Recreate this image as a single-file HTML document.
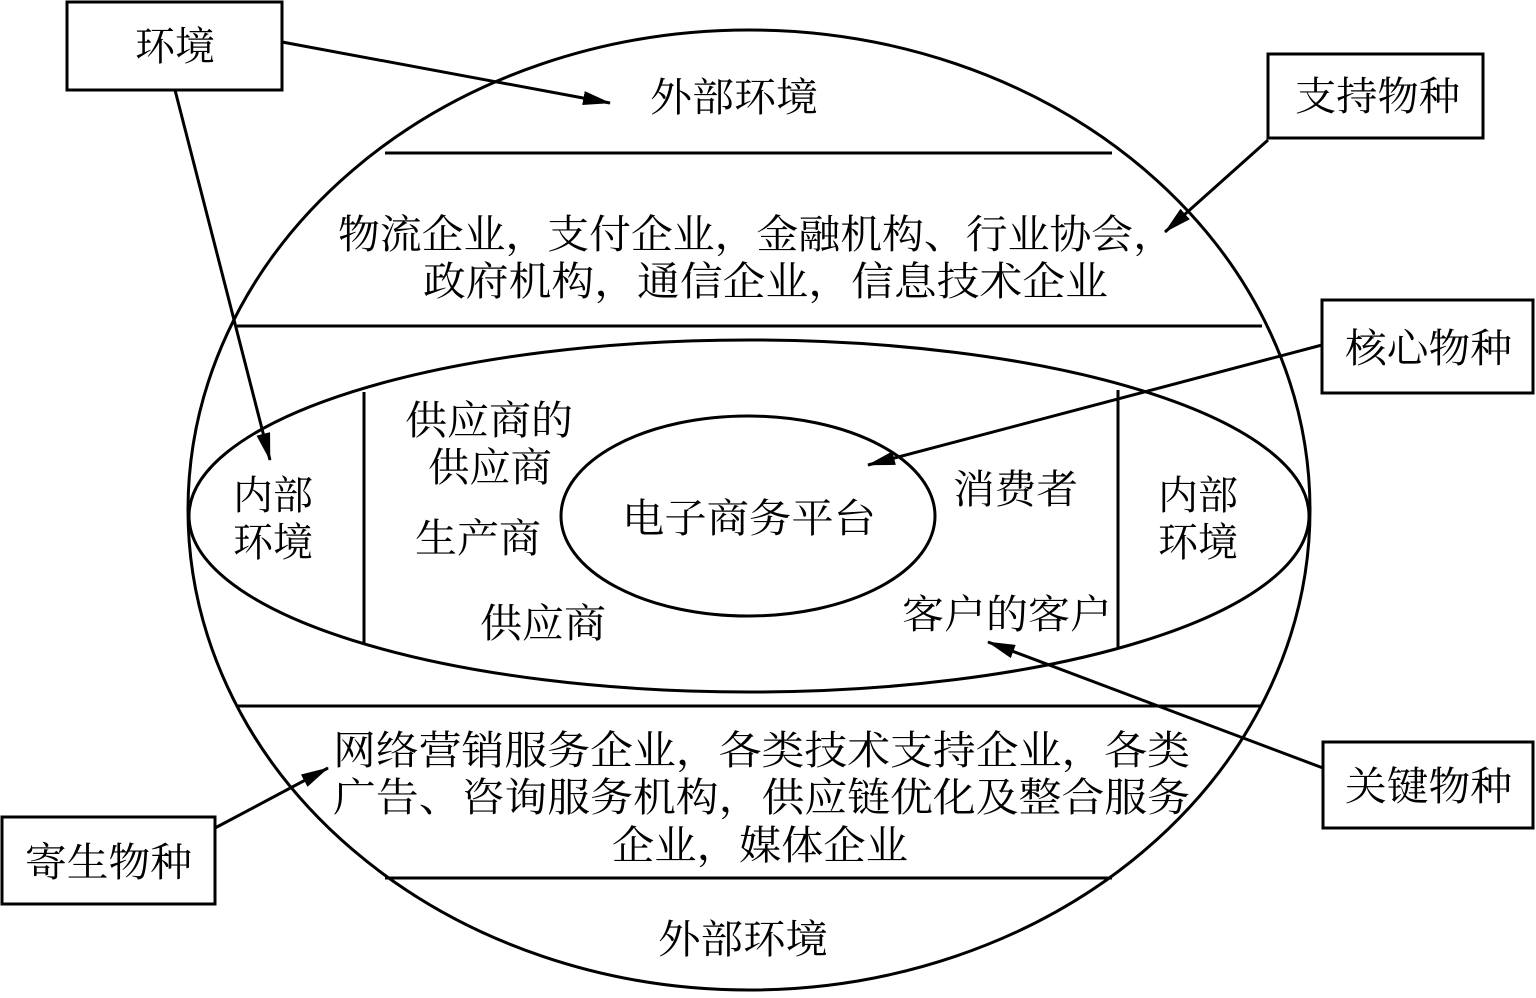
<!DOCTYPE html>
<html><head><meta charset="utf-8"><style>
html,body{margin:0;padding:0;background:#fff;}
svg text{font-family:"Liberation Serif","Noto Serif CJK SC",serif;font-size:40px;fill:#000;}
</style></head><body>
<svg width="1536" height="993" viewBox="0 0 1536 993" xmlns="http://www.w3.org/2000/svg">
<defs>
<marker id="b" markerWidth="28" markerHeight="14" refX="27" refY="7" orient="auto" markerUnits="userSpaceOnUse"><path d="M0,0 L28,7 L0,14 Z" fill="#000"/></marker></defs>
<g stroke="#000" stroke-width="3" fill="none">
<ellipse cx="749" cy="510" rx="561" ry="480"/>
<line x1="385" y1="153" x2="1112" y2="153"/>
<line x1="237" y1="326" x2="1262" y2="326"/>
<line x1="237" y1="706" x2="1262" y2="706"/>
<line x1="385" y1="878" x2="1112" y2="878"/>
<ellipse cx="749" cy="516" rx="560" ry="176"/>
<line x1="364" y1="392" x2="364" y2="644"/>
<line x1="1118" y1="390" x2="1118" y2="648"/>
<ellipse cx="748" cy="516" rx="187" ry="100"/>
<rect x="67" y="2" width="215" height="88" fill="#fff"/>
<rect x="1268" y="54" width="215" height="84" fill="#fff"/>
<rect x="1322" y="300" width="211" height="93" fill="#fff"/>
<rect x="1323" y="742" width="210" height="86" fill="#fff"/>
<rect x="2" y="817" width="213" height="87" fill="#fff"/>
<line x1="282" y1="42" x2="610" y2="103" marker-end="url(#b)"/>
<line x1="175" y1="90" x2="270" y2="460" marker-end="url(#b)"/>
<line x1="1268" y1="140" x2="1165" y2="232" marker-end="url(#b)"/>
<line x1="1322" y1="345" x2="868" y2="465" marker-end="url(#b)"/>
<line x1="1323" y1="768" x2="988" y2="642" marker-end="url(#b)"/>
<line x1="215" y1="828" x2="328" y2="768" marker-end="url(#b)"/>
</g>
<g lengthAdjust="spacingAndGlyphs">
<text x="135" y="60" textLength="80" lengthAdjust="spacingAndGlyphs">环境</text>
<text x="1295" y="110" textLength="165" lengthAdjust="spacingAndGlyphs">支持物种</text>
<text x="1345" y="362" textLength="167" lengthAdjust="spacingAndGlyphs">核心物种</text>
<text x="1345" y="800" textLength="167" lengthAdjust="spacingAndGlyphs">关键物种</text>
<text x="25" y="876" textLength="167" lengthAdjust="spacingAndGlyphs">寄生物种</text>
<text x="650" y="111" textLength="168" lengthAdjust="spacingAndGlyphs">外部环境</text>
<text x="338" y="248" textLength="837" lengthAdjust="spacingAndGlyphs">物流企业，支付企业，金融机构、行业协会，</text>
<text x="423" y="295" textLength="685" lengthAdjust="spacingAndGlyphs">政府机构，通信企业，信息技术企业</text>
<text x="233" y="509" textLength="80" lengthAdjust="spacingAndGlyphs">内部</text>
<text x="233" y="556" textLength="80" lengthAdjust="spacingAndGlyphs">环境</text>
<text x="1158" y="509" textLength="80" lengthAdjust="spacingAndGlyphs">内部</text>
<text x="1158" y="556" textLength="80" lengthAdjust="spacingAndGlyphs">环境</text>
<text x="405" y="434" textLength="168" lengthAdjust="spacingAndGlyphs">供应商的</text>
<text x="428" y="481" textLength="124" lengthAdjust="spacingAndGlyphs">供应商</text>
<text x="415" y="552" textLength="126" lengthAdjust="spacingAndGlyphs">生产商</text>
<text x="480" y="637" textLength="126" lengthAdjust="spacingAndGlyphs">供应商</text>
<text x="622" y="532" textLength="254" lengthAdjust="spacingAndGlyphs">电子商务平台</text>
<text x="953" y="503" textLength="125" lengthAdjust="spacingAndGlyphs">消费者</text>
<text x="902" y="628" textLength="210" lengthAdjust="spacingAndGlyphs">客户的客户</text>
<text x="333" y="764" textLength="857" lengthAdjust="spacingAndGlyphs">网络营销服务企业，各类技术支持企业，各类</text>
<text x="333" y="811" textLength="857" lengthAdjust="spacingAndGlyphs">广告、咨询服务机构，供应链优化及整合服务</text>
<text x="612" y="859" textLength="296" lengthAdjust="spacingAndGlyphs">企业，媒体企业</text>
<text x="658" y="953" textLength="170" lengthAdjust="spacingAndGlyphs">外部环境</text>
</g>
</svg>
</body></html>
